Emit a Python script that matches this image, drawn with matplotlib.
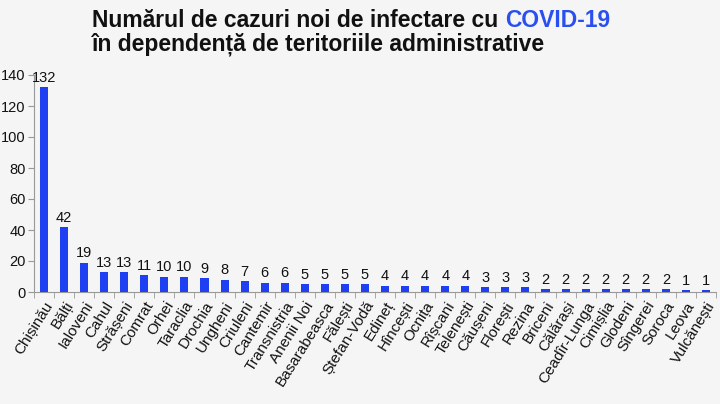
import matplotlib
matplotlib.use("Agg")
import matplotlib.pyplot as plt

regions = ["Chișinău", "Bălți", "Ialoveni", "Cahul", "Strășeni", "Comrat", "Orhei",
           "Taraclia", "Drochia", "Ungheni", "Criuleni", "Cantemir", "Transnistria",
           "Anenii Noi", "Basarabeasca", "Fălești", "Ștefan-Vodă", "Edineț", "Hîncești",
           "Ocnița", "Rîșcani", "Telenești", "Căușeni", "Florești", "Rezina", "Briceni",
           "Călărași", "Ceadîr-Lunga", "Cimișlia", "Glodeni", "Sîngerei", "Soroca",
           "Leova", "Vulcănești"]
cases = [132, 42, 19, 13, 13, 11, 10, 10, 9, 8, 7, 6, 6, 5, 5, 5, 5, 4, 4, 4, 4, 4,
         3, 3, 3, 2, 2, 2, 2, 2, 2, 2, 1, 1]
yticks = [0, 20, 40, 60, 80, 100, 120, 140]

bg = "#f5f5f5"
bar_color = "#1f3ff2"
plt.rcParams['font.family'] = ['Liberation Sans', 'DejaVu Sans']

fig = plt.figure(figsize=(7.2, 4.04), dpi=100, facecolor=bg)
ax = fig.add_axes([34/720, 1-292/404, (716-34)/720, (292-75)/404], facecolor=bg)

x = list(range(len(regions)))
ax.bar(x, cases, width=0.4, color=bar_color, zorder=3)
for xi, v in zip(x, cases):
    ax.text(xi, v + 1.5, str(v), ha='center', va='bottom', fontsize=10.5, color='#111111')

ax.set_xlim(-0.5, len(regions) - 0.5)
ax.set_ylim(0, 140)
ax.set_yticks(yticks)
ax.set_yticklabels([str(t) for t in yticks], fontsize=10.5, color='#111111')
ax.set_xticks([i - 0.5 for i in range(len(regions) + 1)], minor=True)
ax.set_xticks(x)
ax.set_xticklabels(regions, rotation=58, ha='right', rotation_mode='anchor',
                   fontsize=11, color='#111111')
ax.tick_params(axis='x', which='major', length=0, pad=5)
ax.tick_params(axis='x', which='minor', length=4, color='#999999', direction='out')
ax.tick_params(axis='y', length=4, color='#999999', pad=2)
for s in ['top', 'right']:
    ax.spines[s].set_visible(False)
for s in ['left', 'bottom']:
    ax.spines[s].set_color('#999999')
    ax.spines[s].set_linewidth(0.8)

tfont = ['Liberation Sans', 'DejaVu Sans']
fig.text(92/720, 1-27/404, "Numărul de cazuri noi de infectare cu ", fontsize=16.5,
         fontweight='bold', family=tfont, color='#111111', va='baseline')
t1 = fig.texts[-1]
fig.canvas.draw()
bb = t1.get_window_extent()
fig.text(bb.x1/720, 1-27/404, "COVID-19", fontsize=16.5, fontweight='bold',
         family=tfont, color='#2a4ff0', va='baseline')
fig.text(92/720, 1-50/404, "în dependență de teritoriile administrative", fontsize=16.5,
         fontweight='bold', family=tfont, color='#111111', va='baseline')

fig.savefig("out.png", dpi=100, facecolor=bg)
